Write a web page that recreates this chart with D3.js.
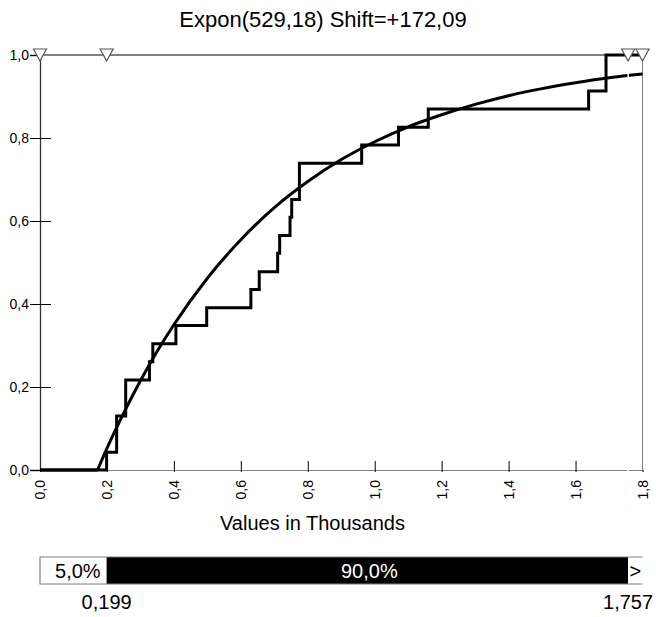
<!DOCTYPE html>
<html>
<head>
<meta charset="utf-8">
<script src="https://cdn.jsdelivr.net/npm/d3@7"></script>
<style>
  body { margin: 0; background: #fff; }
  text { font-family: 'Liberation Sans', Arial, sans-serif; fill: #000; }
</style>
</head>
<body>
<script>
// empirical cumulative steps (values in thousands, cumulative probability)
const stepX = [0, 0.199, 0.229, 0.256, 0.327, 0.337, 0.406, 0.498, 0.630, 0.655, 0.710, 0.716, 0.747, 0.752, 0.775, 0.961, 1.071, 1.160, 1.639, 1.691, 1.8];
const stepP = [0, 0.043, 0.130, 0.217, 0.261, 0.304, 0.348, 0.391, 0.435, 0.478, 0.522, 0.565, 0.609, 0.652, 0.739, 0.783, 0.826, 0.870, 0.913, 1.0, 1.0];

// fitted curve
const fitX = [0.172, 0.2, 0.25, 0.3, 0.35, 0.4, 0.5, 0.6, 0.7, 0.8, 0.9, 1.0, 1.1, 1.2, 1.3, 1.4, 1.5, 1.6, 1.7, 1.8];
const fitP = [0, 0.052, 0.137, 0.215, 0.286, 0.350, 0.462, 0.555, 0.632, 0.695, 0.748, 0.791, 0.827, 0.856, 0.881, 0.902, 0.919, 0.933, 0.945, 0.954];

const xTicks = [0, 0.2, 0.4, 0.6, 0.8, 1.0, 1.2, 1.4, 1.6, 1.8];
const yTicks = [0, 0.2, 0.4, 0.6, 0.8, 1.0];
const markers = [0, 0.199, 1.757, 1.8];
const barEdges = [0, 0.199, 1.757, 1.8];
const barLabels = ['5,0%', '90,0%', '>'];
const edgeLabels = ['0,199', '1,757'];
const title = 'Expon(529,18) Shift=+172,09';
const xTitle = 'Values in Thousands';

const width = 656, height = 617;
const svg = d3.select('body').append('svg')
    .attr('width', width)
    .attr('height', height);

const x = d3.scaleLinear().domain([0, 1.8]).range([40, 642.5]);
const y = d3.scaleLinear().domain([0, 1]).range([470, 55]);
const fmt = d3.formatLocale({decimal: ',', thousands: '.', grouping: [3], currency: ['', '']}).format('.1f');

svg.append('text')
    .attr('x', 323).attr('y', 27)
    .attr('text-anchor', 'middle')
    .style('font-size', '22px')
    .text(title);

// frame
svg.append('line').attr('x1', x(0)).attr('x2', x(1.8)).attr('y1', y(1)).attr('y2', y(1))
    .attr('stroke', '#000').attr('stroke-width', 1);
svg.append('line').attr('x1', x(1.8)).attr('x2', x(1.8)).attr('y1', y(1)).attr('y2', y(0))
    .attr('stroke', '#808080').attr('stroke-width', 1);

// y axis
const yOut = svg.append('g').attr('transform', 'translate(' + x(0) + ',0)')
    .call(d3.axisLeft(y).tickValues(yTicks).tickFormat(fmt).tickSize(10).tickPadding(1));
yOut.select('.domain').attr('stroke', '#333').attr('stroke-width', 1.3);
yOut.selectAll('.tick line').attr('stroke', '#000');
yOut.selectAll('text').style('font-size', '14px').attr('fill', '#000');
svg.append('g').attr('transform', 'translate(' + x(0) + ',0)')
    .call(d3.axisRight(y).tickValues(yTicks.slice(0, -1)).tickFormat('').tickSize(11))
    .call(g => g.select('.domain').remove())
    .selectAll('.tick line').attr('stroke', '#000');

// x axis
const xAx = svg.append('g').attr('transform', 'translate(0,' + y(0) + ')')
    .call(d3.axisBottom(x).tickValues(xTicks).tickFormat(fmt).tickSize(2).tickSizeOuter(0));
xAx.select('.domain').attr('stroke', '#808080');
xAx.selectAll('.tick line').attr('stroke', '#000');
xAx.selectAll('text')
    .attr('transform', 'rotate(-90)')
    .attr('text-anchor', 'end')
    .attr('x', -10).attr('y', 0).attr('dy', '0.35em')
    .style('font-size', '14px').attr('fill', '#000');
svg.append('g').attr('transform', 'translate(0,' + y(0) + ')')
    .call(d3.axisTop(x).tickValues(xTicks.slice(1, -1)).tickFormat('').tickSize(9))
    .call(g => g.select('.domain').remove())
    .selectAll('.tick line').attr('stroke', '#000');

svg.append('text')
    .attr('x', 220).attr('y', 530)
    .style('font-size', '20px')
    .text(xTitle);

// fitted curve
const fitLine = d3.line().x(d => x(d[0])).y(d => y(d[1])).curve(d3.curveMonotoneX);
svg.append('path')
    .attr('d', d3.line()([[x(0), y(0)], [x(fitX[0]), y(0)]]))
    .attr('stroke', '#000').attr('stroke-width', 3).attr('fill', 'none');
svg.append('path')
    .attr('d', fitLine(d3.zip(fitX, fitP)))
    .attr('stroke', '#000').attr('stroke-width', 3).attr('fill', 'none');

// empirical steps
const stepLine = d3.line().x(d => x(d[0])).y(d => y(d[1])).curve(d3.curveStepAfter);
svg.append('path')
    .attr('d', stepLine(d3.zip(stepX, stepP)))
    .attr('stroke', '#000').attr('stroke-width', 3).attr('fill', 'none')
    .attr('stroke-linejoin', 'miter');

// delimiter gap
svg.append('line')
    .attr('x1', x(markers[2])).attr('x2', x(markers[2]))
    .attr('y1', y(1) + 8).attr('y2', y(0) + 1)
    .attr('stroke', '#fff').attr('stroke-width', 1.5);

// triangles on top
svg.selectAll('path.marker')
    .data(markers)
    .join('path')
    .attr('class', 'marker')
    .attr('transform', d => 'translate(' + x(d) + ',' + y(1) + ')')
    .attr('d', 'M-6.5,-6L6.5,-6L0,6Z')
    .attr('fill', '#fff').attr('stroke', '#555').attr('stroke-width', 1.2);

// bottom bar
const barTop = 557, barH = 27;
const segs = d3.pairs(barEdges).map((p, i) => ({x0: p[0], x1: p[1], label: barLabels[i], dark: i === 1}));
svg.selectAll('rect.seg')
    .data(segs)
    .join('rect')
    .attr('class', 'seg')
    .attr('x', d => x(d.x0)).attr('y', barTop)
    .attr('width', d => x(d.x1) - x(d.x0)).attr('height', barH)
    .attr('fill', d => d.dark ? '#000' : '#fff');
svg.append('path')
    .attr('d', 'M' + x(1.8) + ',' + barTop + 'H' + x(0) + 'V' + (barTop + barH) + 'H' + x(1.8))
    .attr('fill', 'none').attr('stroke', '#808080').attr('stroke-width', 1.2);
svg.selectAll('text.seg')
    .data(segs)
    .join('text')
    .attr('class', 'seg')
    .attr('x', (d, i) => i === 0 ? x(d.x1) - 6 : (x(d.x0) + x(d.x1)) / 2 + (i === 1 ? 2 : 0))
    .attr('y', barTop + 21)
    .attr('text-anchor', (d, i) => i === 0 ? 'end' : 'middle')
    .style('font-size', '20px')
    .style('fill', d => d.dark ? '#fff' : '#000')
    .text(d => d.label);
svg.selectAll('text.edge')
    .data(edgeLabels)
    .join('text')
    .attr('class', 'edge')
    .attr('x', (d, i) => x(barEdges[i + 1]))
    .attr('y', 609)
    .attr('text-anchor', 'middle')
    .style('font-size', '20px')
    .text(d => d);
</script>
</body>
</html>
